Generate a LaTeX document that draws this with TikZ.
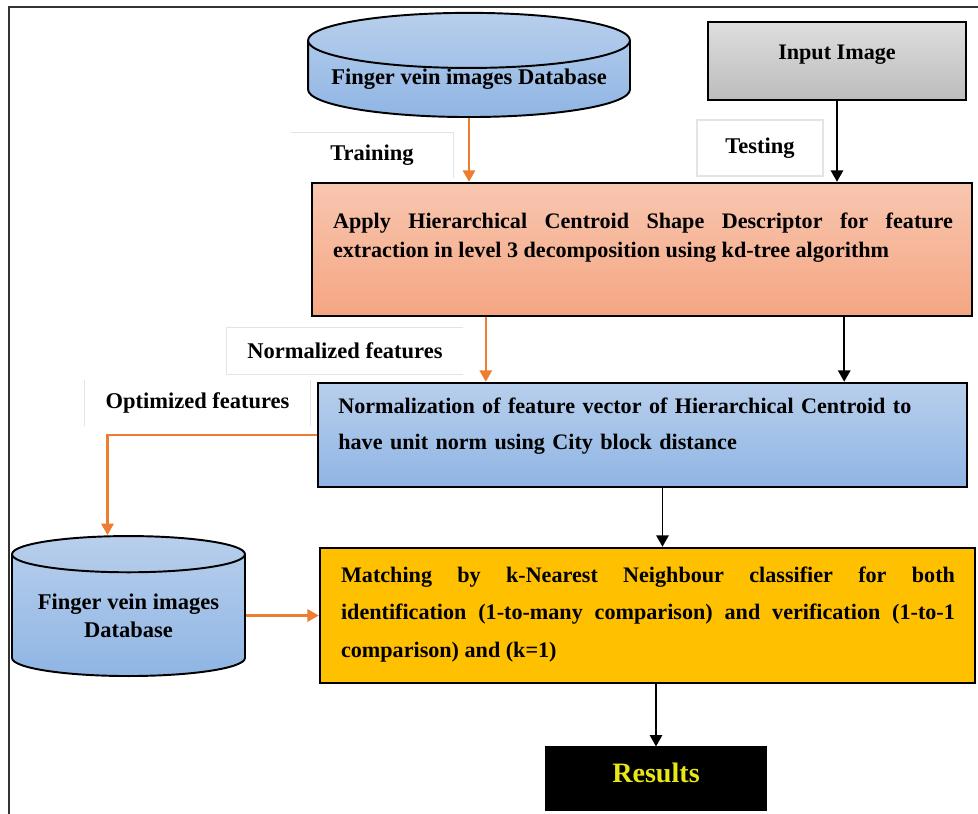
\documentclass[tikz,border=0pt]{standalone}
\usepackage{fontspec}
\setmainfont{Liberation Serif}
\usetikzlibrary{arrows.meta,positioning,shapes.geometric}
\definecolor{dbtop}{RGB}{184,207,236}
\definecolor{dbbot}{RGB}{143,181,228}
\definecolor{applytop}{RGB}{248,198,176}
\definecolor{applybot}{RGB}{245,166,130}
\definecolor{inputtop}{RGB}{222,222,222}
\definecolor{inputbot}{RGB}{188,188,188}
\definecolor{matchfill}{RGB}{255,192,0}
\definecolor{trainline}{RGB}{237,125,49}
\definecolor{resulttext}{RGB}{232,232,20}
\definecolor{tagline}{RGB}{228,228,228}
\tikzset{
	stepbox/.style={draw, line width=1.4pt, inner sep=0pt},
	steptext/.style={inner sep=0pt, align=justify},
	database/.style={cylinder, shape border rotate=90, aspect=0.2, draw, line width=1.1pt, top color=dbtop, bottom color=dbbot, inner sep=0pt, anchor=south, align=center, font=\fontsize{12.8}{16}\selectfont\bfseries},
	tagbox/.style={inner sep=0pt, font=\fontsize{12.8}{14}\selectfont\bfseries},
	tagedge/.style={draw=tagline, line width=0.7pt},
	trainarrow/.style={draw=trainline, line width=1.2pt, -{Triangle[length=6.5pt,width=7pt]}},
	flowarrow/.style={draw=black, line width=1.1pt, -{Triangle[length=6.5pt,width=7pt]}}
}

\begin{document}
\begin{tikzpicture}[x=0.02cm, y=-0.02cm]
	\useasboundingbox (0,0) rectangle (978,814);
	% frame
	\draw[line width=1.1pt, black!80] (978,7) -- (9,7) -- (9,814);
	
	% sources
	\node[database, minimum width=6.44cm, minimum height=1.96cm] (db-train) at (469,118) {Finger vein images Database};
	\node[stepbox, top color=inputtop, bottom color=inputbot, minimum width=5.16cm, minimum height=1.56cm,
		font=\fontsize{12.6}{14}\selectfont\bfseries, text height=8.8pt, text depth=11pt] (input) at (837,61) {Input Image};
	
	% labels
	\node[tagbox, minimum width=3.24cm, minimum height=0.9cm] (tag-train) at (372,155) {Training};
	\draw[tagedge] (tag-train.north west) -- (tag-train.north east) -- (tag-train.south east);
	\node[tagbox, tagedge, minimum width=2.52cm, minimum height=1.12cm] (tag-test) at (760,148) {Testing};
	
	% feature extraction
	\node[stepbox, top color=applytop, bottom color=applybot, minimum width=13.2cm, minimum height=2.66cm] (apply) at (642,249.5) {};
	\node[steptext, text width=12.4cm, font=\fontsize{12.6}{16.4}\selectfont\bfseries] (apply-txt) at (643,238)
		{Apply Hierarchical Centroid Shape Descriptor for feature\linebreak extraction in level 3 decomposition using kd-tree algorithm};
	
	\draw[trainarrow] (db-train.south) -- (db-train.south |- apply.north);
	\draw[flowarrow] (input.south) -- (input.south |- apply.north);
	
	\node[tagbox, minimum width=4.72cm, minimum height=0.92cm] (tag-norm) at (345,351) {Normalized features};
	\draw[tagedge] (tag-norm.north east) -- (tag-norm.north west) -- (tag-norm.south west) -- (tag-norm.south east);
	
	% normalization
	\node[stepbox, top color=dbtop, bottom color=dbbot, minimum width=12.98cm, minimum height=2.08cm] (norm) at (642.5,435) {};
	\node[steptext, align=left, anchor=west, text width=12.2cm, font=\fontsize{12.6}{20.4}\selectfont\bfseries] (norm-txt) at (338,426)
		{Normalization of feature vector of Hierarchical Centroid to\\ have unit norm using City block distance};
	
	\draw[trainarrow] ([xshift=3.5cm]apply.south west) -- ([xshift=3.5cm]apply.south west |- norm.north);
	\draw[flowarrow] ([xshift=-2.58cm]apply.south east) -- ([xshift=-2.58cm]apply.south east |- norm.north);
	
	\node[tagbox, minimum width=4.5cm, minimum height=0.92cm] (tag-opt) at (197.5,403) {Optimized features};
	\draw[tagedge] (tag-opt.north west) -- (tag-opt.south west);
	\draw[tagedge] (tag-opt.north east) -- (tag-opt.south east);
	
	% matching
	\node[database, minimum width=4.66cm, minimum height=2.8cm] (db-test) at (128.5,677) {Finger vein images\\ Database};
	\node[stepbox, fill=matchfill, minimum width=13.1cm, minimum height=2.7cm] (match) at (647.5,615.5) {};
	\node[steptext, text width=12.28cm, font=\fontsize{12.6}{21.5}\selectfont\bfseries] (match-txt) at (648,614.5)
		{Matching by k-Nearest Neighbour classifier for both\linebreak identification (1-to-many comparison) and verification (1-to-1\linebreak comparison) and (k=1)};
	
	\draw[trainarrow] (norm.west) -| ([xshift=-0.42cm]db-test.north);
	\draw[trainarrow] (db-test.east |- match.west) -- (match.west);
	\draw[flowarrow] ([xshift=0.4cm]norm.south) -- ([xshift=0.4cm]norm.south |- match.north);
	
	% output
	\node[stepbox, fill=black, line width=0.6pt, minimum width=4.4cm, minimum height=1.26cm, text=resulttext,
		font=\fontsize{16}{18}\selectfont\bfseries, text depth=6.2pt] (results) at (656,778.5) {Results};
	\draw[flowarrow] (results.north |- match.south) -- (results.north);
\end{tikzpicture}
\end{document}
